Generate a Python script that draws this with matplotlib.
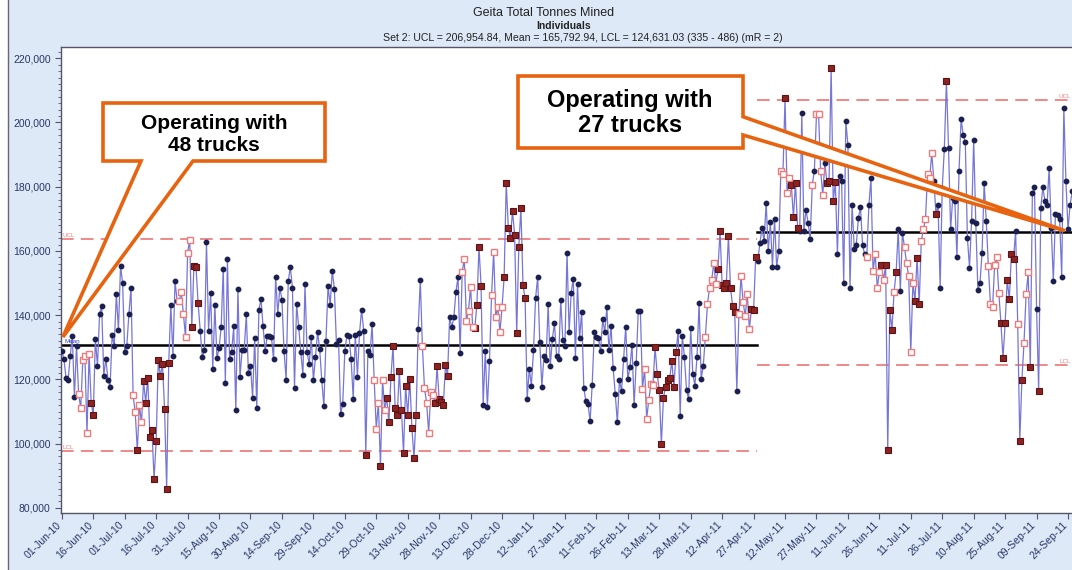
import datetime as dt
import matplotlib
matplotlib.use('Agg')
import matplotlib.pyplot as plt
import matplotlib.dates as mdates
from matplotlib.patches import Polygon
from matplotlib.ticker import MultipleLocator, FuncFormatter
from matplotlib.transforms import ScaledTranslation, blended_transform_factory
import numpy as np

plt.rcParams['font.family'] = ['Liberation Sans', 'DejaVu Sans']

# ---- data -------------------------------------------------------------
start_date = dt.date(2010, 6, 1)

title = 'Geita Total Tonnes Mined'
subtitle = 'Individuals'
set_info = ('Set 2: UCL = 206,954.84, Mean = 165,792.94, '
            'LCL = 124,631.03 (335 - 486) (mR = 2)')

# UCL, Mean, LCL
set1_limits = (163600, 130700, 97800)
set2_limits = (206954.84, 165792.94, 124631.03)
set2_start = 335                               # first point of set 2

callout_1 = 'Operating with\n48 trucks'
callout_2 = 'Operating with\n27 trucks'

# daily tonnes mined, thousands (points 1 - 334)
set1_tonnes = [
    128.7, 126.4, 120.4, 119.7, 127.2, 133.6, 114.5, 130.5, 115.5, 111.0,
    125.9, 127.4, 103.2, 128.0, 112.7, 108.9, 132.6, 124.1, 140.4, 142.7,
    121.2, 126.4, 119.9, 117.6, 133.8, 130.5, 146.6, 135.4, 155.3, 150.0,
    128.5, 130.5, 140.4, 148.6, 115.0, 109.9, 98.0, 111.9, 106.6, 119.4,
    112.8, 120.4, 102.1, 104.2, 89.0, 100.8, 125.9, 121.0, 124.9, 110.9,
    85.9, 125.2, 143.1, 127.4, 150.5, 144.5, 144.5, 147.1, 140.4, 133.1,
    159.5, 163.4, 136.2, 155.3, 155.1, 143.8, 135.2, 126.9, 129.0, 162.8,
    135.2, 146.9, 123.1, 143.1, 126.6, 129.7, 136.2, 154.5, 119.0, 157.4,
    126.4,
    128.5, 136.5, 110.4, 148.1, 120.7, 129.2, 129.2, 140.3, 122.1, 124.3,
    114.3, 132.9, 111.1, 141.7, 145.0, 136.5, 128.8, 133.6, 133.6, 133.1,
    126.2, 152.0, 140.3, 148.6, 144.8, 128.8, 119.9, 150.5, 155.0, 148.6,
    117.4, 143.4, 136.2, 128.5, 121.5, 149.6, 128.5, 124.8, 133.1, 119.7,
    126.9, 134.7, 129.5, 119.7, 111.6, 132.1, 149.1, 143.2, 153.8, 148.3,
    131.0, 132.4, 109.3, 112.4, 128.8, 133.8, 133.4, 126.2, 114.0, 133.8,
    120.9, 134.4, 141.7, 135.2, 96.6, 128.8, 127.6, 137.2, 119.9, 104.7,
    112.7, 93.1, 119.9, 110.6, 114.2, 106.6, 120.7, 130.5, 111.1, 108.8,
    122.5,
    110.4, 97.0, 118.1, 108.8, 120.2, 104.9, 95.4, 108.8, 135.7, 151.0,
    130.3, 117.3, 112.8, 103.4, 116.1, 115.2, 112.5, 124.1, 113.8, 113.0,
    112.0, 124.5, 121.2, 139.3, 136.2, 139.3, 147.3, 151.9, 128.3, 153.5,
    157.6, 138.3, 141.4, 148.8, 136.2, 136.0, 143.1, 161.2, 149.1, 112.1,
    128.7, 111.4, 125.6, 146.2, 159.8, 139.5, 142.4, 134.7, 142.4, 151.9,
    181.2, 167.0, 164.1, 172.4, 165.1, 134.4, 161.3, 173.4, 149.3, 145.3,
    114.0, 123.3, 118.1, 129.0, 145.3, 151.9, 131.6, 117.6, 127.4, 126.1,
    143.4, 124.1, 132.6, 137.5, 127.4, 126.2, 144.7, 132.3, 130.5, 159.5,
    134.7,
    147.0, 151.4, 126.7, 149.8, 132.8, 141.1, 117.3, 113.2, 112.4, 107.0,
    118.3, 134.7, 133.1, 132.9, 128.7, 138.8, 134.7, 142.4, 129.0, 136.7,
    123.5, 115.5, 106.6, 119.7, 116.3, 126.4, 136.4, 120.0, 123.8, 130.7,
    111.9, 125.2, 141.4, 141.4, 117.1, 123.3, 107.8, 113.5, 118.6, 118.4,
    130.0, 121.8, 116.6, 99.9, 114.3, 117.6, 119.9, 120.4, 125.7, 117.6,
    128.5, 135.0, 108.6, 133.6, 126.9, 116.8, 113.8, 136.0, 121.8, 118.1,
    126.9, 143.9, 120.2, 124.3, 133.3, 143.4, 148.6, 150.9, 156.1, 149.8,
    154.3, 166.2, 149.4, 148.6, 149.9, 164.6, 148.4, 142.9, 141.1, 116.4,
    140.3, 152.2, 144.2, 139.6, 146.5, 135.7, 141.9, 141.6, 158.2, 156.9,
    162.4,
]

# points 335 onwards (set 2), thousands
set2_tonnes = [
    167.0, 163.0, 175.0, 160.0, 169.0, 155.0, 170.0, 155.0, 160.0, 185.0,
    184.0, 207.5, 178.0, 182.7, 180.6, 170.5, 181.2, 167.2, 166.2, 202.8,
    166.3, 172.7, 168.8, 163.6, 180.6, 185.0, 202.5, 202.5, 185.0, 177.5,
    187.3, 181.2, 181.9, 217.1, 175.5, 181.4, 158.9, 183.2, 181.7, 149.9,
    200.5, 193.0, 148.6, 174.4, 160.7, 162.0, 170.3, 173.6, 161.8, 158.9,
    158.1, 174.2, 182.7, 153.6, 159.1, 148.6, 153.3, 155.5, 150.9, 155.5,
    98.0, 141.7, 135.4, 147.1, 153.3, 166.7, 147.6, 165.6, 161.2, 156.1,
    152.2, 128.5, 149.9, 144.5, 157.9, 143.4, 163.1, 166.7, 169.8, 183.9,
    182.7, 190.4, 181.9, 171.5, 174.4, 148.6, 179.6, 191.8, 212.9, 192.0,
    166.7, 176.5, 175.5, 158.1, 184.8, 201.1, 196.1, 193.9, 164.1, 154.8,
    169.3, 194.6, 168.8, 147.9, 149.9, 159.5, 181.2, 169.3, 155.3, 143.4,
    142.4, 155.6, 158.1, 146.8, 137.5, 126.6, 137.5, 150.9, 145.0, 159.2,
    157.4, 166.2, 137.3, 100.8, 119.9, 131.3, 146.5, 153.3, 123.8, 178.1,
    179.8, 141.9, 116.4, 173.4, 179.8, 175.5, 174.2, 185.8, 167.0, 150.7,
    171.5, 171.3, 169.8, 151.9, 204.6, 181.7, 166.7, 174.4, 178.6,
]

# marker kind per point as runs: '.' normal, 'r' filled red, 'o' hollow
set1_flag_runs = [
    ('.', 8), ('o', 6), ('r', 2), ('.', 18), ('o', 2), ('r', 1), ('o', 2),
    ('r', 13), ('.', 4), ('o', 6), ('r', 4), ('.', 15),
    ('.', 64), ('r', 1), ('.', 3), ('o', 3), ('r', 1), ('o', 2), ('r', 7),
    ('r', 8), ('.', 2), ('o', 6), ('r', 7), ('.', 6), ('o', 6), ('r', 4),
    ('.', 4), ('o', 6), ('r', 11), ('.', 21),
    ('.', 34), ('o', 6), ('r', 11), ('.', 13), ('o', 6), ('r', 9), ('.', 1),
    ('o', 6), ('r', 3), ('.', 2),
]
set2_flag_runs = [
    ('.', 9), ('o', 2), ('r', 1), ('o', 2), ('r', 4), ('.', 6), ('o', 1),
    ('.', 1), ('o', 4), ('.', 1), ('r', 5), ('.', 14), ('o', 1), ('.', 2),
    ('o', 4), ('r', 1), ('o', 1), ('r', 4), ('o', 1), ('r', 1), ('.', 3),
    ('o', 5), ('r', 3), ('o', 6), ('.', 1), ('r', 1), ('.', 4), ('r', 1),
    ('.', 19), ('o', 6), ('r', 7), ('.', 1), ('o', 1), ('r', 2), ('o', 3),
    ('r', 1), ('.', 3), ('r', 1), ('.', 16),
]

# ---- prep ---------------------------------------------------------------
tonnes = np.array(set1_tonnes + set2_tonnes) * 1000
flags = np.array(list(''.join(c * n for c, n in set1_flag_runs + set2_flag_runs)))
n = len(tonnes)
x0 = mdates.date2num(start_date)
x = x0 + np.arange(n)
b = set2_start - 3.4  # where the limit lines change over

bg = '#dde9f7'
navy = '#2a3766'
line_col = '#7676d6'
limit_col = '#ef7f7f'
orange = '#e8630f'

fig = plt.figure(figsize=(10.72, 5.70), dpi=100, facecolor=bg)
W, H = 1072.0, 570.0
ax = fig.add_axes([61 / W, 1 - 513 / H, (W - 61) / W, (513 - 47) / H])
ax.set_facecolor('white')

ax.plot(x, tonnes, color=line_col, lw=0.9, zorder=3)
m = flags == '.'
ax.plot(x[m], tonnes[m], 'o', ms=3.2, color='#1b1f4f', zorder=4)
m = flags == 'r'
ax.plot(x[m], tonnes[m], 's', ms=4.2, mfc='#8e2222', mec='#5a1414', mew=0.8, zorder=4)
m = flags == 'o'
ax.plot(x[m], tonnes[m], 's', ms=4.2, mfc='white', mec='#f07a7a', mew=1.0, zorder=4)

# control limits
segs = [(x0 - 0.3, x0 + b, set1_limits), (x0 + b, x0 + n + 5, set2_limits)]
for xa, xb, (ucl, mean, lcl) in segs:
    ax.plot([xa, xb], [mean, mean], color='black', lw=1.8, zorder=2)
    for lim in (ucl, lcl):
        ax.plot([xa, xb], [lim, lim], color=limit_col, lw=1.3,
                dashes=(7, 4), zorder=2)

lab = dict(fontsize=4.5, color=limit_col, va='bottom')
ax.text(x0 + 0.5, set1_limits[0] + 300, 'UCL', ha='left', **lab)
ax.text(x0 + 0.5, set1_limits[2] + 300, 'LCL', ha='left', **lab)
ax.text(x0 + 1.5, set1_limits[1] + 300, 'Mean', ha='left', va='bottom',
        fontsize=4.5, color='#3344cc')
ax.text(x0 + n - 1.5, set2_limits[0] + 300, 'UCL', ha='right', **lab)
ax.text(x0 + n - 1.5, set2_limits[2] + 300, 'LCL', ha='right', **lab)

# axes
ax.set_xlim(x0 - 0.4, x0 + 481.9)
ax.set_ylim(78400, 223500)
ax.yaxis.set_major_locator(MultipleLocator(20000))
ax.yaxis.set_minor_locator(MultipleLocator(2000))
ax.yaxis.set_major_formatter(FuncFormatter(lambda v, p: f'{v:,.0f}'))
ticks = x0 + np.arange(0, 481, 15)
ax.set_xticks(ticks)
ax.set_xticklabels([])
# date labels drawn by hand so they can sit a little left of the tick
lab_tr = blended_transform_factory(ax.transData, ax.transAxes) + \
    ScaledTranslation(-4 / 72, -5 / 72, fig.dpi_scale_trans)
for t in ticks:
    ax.text(t, 0, mdates.num2date(t).strftime('%d-%b-%y'), transform=lab_tr,
            rotation=45, ha='right', va='top', rotation_mode='anchor',
            fontsize=7.5, color=navy, clip_on=False)
ax.tick_params(axis='both', labelsize=7.5, labelcolor=navy, color='#555577',
               direction='out')
ax.tick_params(axis='y', which='major', length=4)
ax.tick_params(axis='y', which='minor', length=2.5, color='#555577')
ax.tick_params(axis='x', length=4)
for s in ('left', 'bottom', 'top'):
    ax.spines[s].set_color('#555566')
    ax.spines[s].set_linewidth(1.0)
ax.spines['right'].set_visible(False)

# titles
fig.text(544 / W, 1 - 13 / H, title, ha='center', va='center', fontsize=9,
         color='#222222')
fig.text(564 / W, 1 - 26 / H, subtitle, ha='center', va='center', fontsize=7.5,
         fontweight='bold', color='#222222')
fig.text(383 / W, 1 - 38 / H, set_info, ha='left', va='center', fontsize=7.6,
         color='#222222')

# left frame line
fig.add_artist(plt.Line2D([8 / W, 8 / W], [0, 1], color='#666677', lw=1.0))
fig.add_artist(plt.Rectangle((0, 0), 7.5 / W, 1, color='white', lw=0))


def to_fig(px, py):
    return (px / W, 1 - py / H)


def tip_fig(xd, yd):
    disp = ax.transData.transform((xd, yd))
    return tuple(fig.transFigure.inverted().transform(disp))


tip1 = tip_fig(x0 + 0.5, set1_limits[1] + 2500)
tip2 = tip_fig(x0 + 478.5, set2_limits[1] + 500)

poly1 = [to_fig(103, 103), to_fig(325, 103), to_fig(325, 161), to_fig(193, 161),
         tip1, to_fig(141, 161), to_fig(103, 161)]
poly2 = [to_fig(518, 76), to_fig(743, 76), to_fig(743, 116.7), tip2,
         to_fig(743, 135), to_fig(743, 148), to_fig(518, 148)]
for pts in (poly1, poly2):
    fig.add_artist(Polygon(pts, closed=True, facecolor='white', edgecolor=orange,
                           lw=2.6, joinstyle='miter', zorder=10))

fig.text(214 / W, 1 - 134 / H, callout_1, ha='center', va='center',
         fontsize=15, fontweight='bold', linespacing=1.2, zorder=11)
fig.text(630 / W, 1 - 113 / H, callout_2, ha='center', va='center',
         fontsize=17, fontweight='bold', linespacing=1.15, zorder=11)

fig.savefig('out.png', dpi=100, facecolor=bg)
